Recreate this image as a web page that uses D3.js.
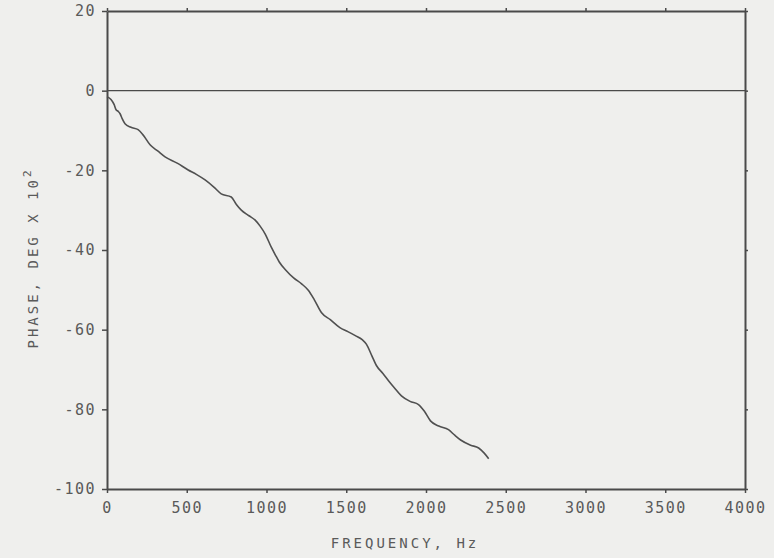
<!DOCTYPE html>
<html>
<head>
<meta charset="utf-8">
<script src="https://cdn.jsdelivr.net/npm/d3@7"></script>
<style>
  body { margin: 0; background: #efefed; }
  svg text { font-family: "DejaVu Sans Mono", "Liberation Mono", monospace; fill: #5a5a5a; }
</style>
</head>
<body>
<div class="graphContainer"></div>
<script>
// Values
const freqHz = [0, 25, 45, 57, 70, 82, 95, 113, 150, 195, 226, 270, 320, 364, 440, 509, 560, 615, 670, 716,
    779, 810, 842, 890, 929, 960, 992, 1030, 1055, 1080, 1120, 1170, 1220, 1262, 1300, 1344, 1400, 1460,
    1510, 1557, 1600, 1627, 1660, 1689, 1730, 1765, 1800, 1846, 1900, 1953, 1990, 2028, 2080, 2141, 2180,
    2217, 2280, 2330, 2365, 2393];
const phase = [-1.5, -2.2, -3.5, -4.8, -5.2, -5.8, -7, -8.3, -9.2, -9.8, -11.1, -13.6, -15.2, -16.6, -18.2,
    -19.9, -21, -22.4, -24.2, -25.9, -26.7, -28.5, -30, -31.4, -32.5, -34, -36, -39.3, -41.2, -43, -45, -47,
    -48.5, -50.1, -52.5, -55.7, -57.5, -59.5, -60.5, -61.5, -62.5, -63.7, -66.5, -69, -71, -72.8, -74.5,
    -76.6, -78, -78.8, -80.5, -82.9, -84.2, -85.1, -86.5, -87.7, -89, -89.7, -91, -92.4];
const xTicks = [0, 500, 1000, 1500, 2000, 2500, 3000, 3500, 4000];
const yTicks = [20, 0, -20, -40, -60, -80, -100];

const W = 774, H = 558;
const margin = { top: 11, right: 29, bottom: 69, left: 107 };
const ink = '#4a4a4a';

const svg = d3.select('.graphContainer')
    .append('svg')
    .attr('width', W)
    .attr('height', H);

const x = d3.scaleLinear().domain([0, 4000]).range([margin.left, W - margin.right]);
const y = d3.scaleLinear().domain([-100, 20]).range([H - margin.bottom, margin.top]);

// plain numbers with a hyphen minus, like the typed original
const plain = d => String(d);

// Axes (ticks on all four sides, labels bottom and left)
const styleAxis = g => {
    g.select('.domain').attr('stroke', ink).attr('stroke-width', 2);
    g.selectAll('.tick line').attr('stroke', ink).attr('stroke-width', 1.5);
    g.selectAll('.tick text')
        .attr('font-size', 15)
        .attr('letter-spacing', 1.5)
        .attr('fill', '#5a5a5a');
};

svg.append('g')
    .attr('transform', `translate(0,${y(-100)})`)
    .call(d3.axisBottom(x).tickValues(xTicks).tickSize(4).tickSizeOuter(0).tickPadding(9).tickFormat(plain))
    .call(styleAxis);

svg.append('g')
    .attr('transform', `translate(0,${y(20)})`)
    .call(d3.axisTop(x).tickValues(xTicks).tickSize(3).tickSizeOuter(0).tickFormat(''))
    .call(styleAxis);

svg.append('g')
    .attr('transform', `translate(${x(0)},0)`)
    .call(d3.axisLeft(y).tickValues(yTicks).tickSize(5).tickSizeOuter(0).tickPadding(6).tickFormat(plain))
    .call(styleAxis);

svg.append('g')
    .attr('transform', `translate(${x(4000)},0)`)
    .call(d3.axisRight(y).tickValues(yTicks).tickSize(3).tickSizeOuter(0).tickFormat(''))
    .call(styleAxis);

// Zero reference line
svg.append('line')
    .attr('x1', x(0)).attr('x2', x(4000))
    .attr('y1', y(0)).attr('y2', y(0))
    .attr('stroke', ink)
    .attr('stroke-width', 1.3);

// Phase curve
const pts = freqHz.map((f, i) => ({ f, p: phase[i] }));
svg.append('path')
    .datum(pts)
    .attr('fill', 'none')
    .attr('stroke', '#505050')
    .attr('stroke-width', 1.6)
    .attr('d', d3.line()
        .x(d => x(d.f))
        .y(d => y(d.p))
        .curve(d3.curveMonotoneX)
    );

// Axis titles
svg.append('text')
    .attr('x', 405)
    .attr('y', 548)
    .attr('text-anchor', 'middle')
    .attr('font-size', 14)
    .attr('letter-spacing', 3)
    .text('FREQUENCY, Hz');

const yTitle = svg.append('text')
    .attr('transform', `translate(38,258) rotate(-90)`)
    .attr('text-anchor', 'middle')
    .attr('font-size', 14)
    .attr('letter-spacing', 3);
yTitle.append('tspan').text('PHASE, DEG X 10');
yTitle.append('tspan').attr('dy', -7).attr('font-size', 11).text('2');
</script>
</body>
</html>
